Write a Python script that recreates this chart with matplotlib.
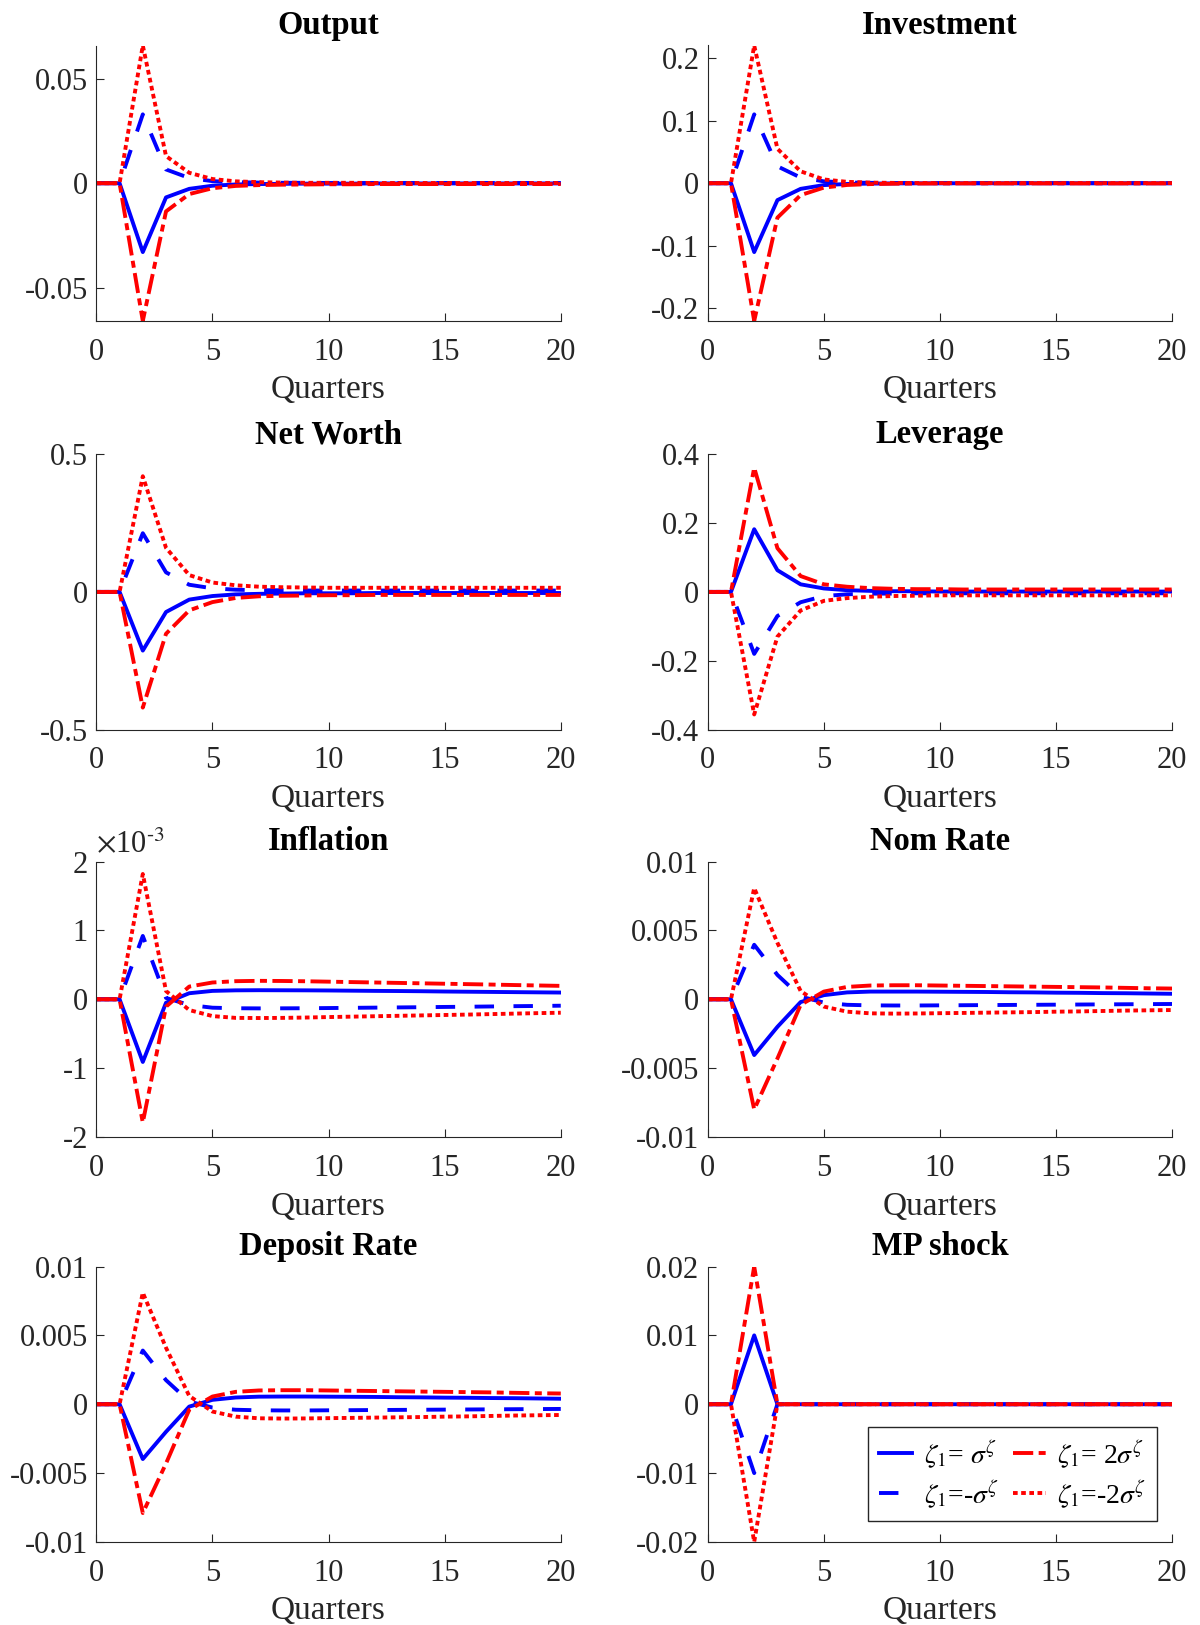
# Impulse responses to the monetary policy shock, four shock sizes
import matplotlib.pyplot as plt
from matplotlib.ticker import FuncFormatter

plt.rcParams['font.family'] = ['Liberation Serif', 'DejaVu Serif']
plt.rcParams['mathtext.fontset'] = 'stix'
plt.rcParams['axes.unicode_minus'] = False

quarters = list(range(21))

# Output
output_s1 = [0, 0, -0.033, -0.0068, -0.0027, -0.0012, -0.0006, -0.0004, -0.0003, -0.0002, -0.0002,
             -0.0002, -0.0001, -0.0001, -0.0001, -0.0001, -0.0001, -0.0001, -0.0001, -0.0001, -0.0001]
output_m1 = [0, 0, 0.033, 0.0066, 0.0025, 0.0010, 0.0005, 0.0003, 0.0002, 0.0002, 0.0001,
             0.0001, 0.0001, 0.0001, 0.0001, 0.0001, 0.0001, 0.0001, 0.0001, 0.0001, 0.0001]
output_s2 = [0, 0, -0.066, -0.0135, -0.0052, -0.0024, -0.0013, -0.0009, -0.0007, -0.0006, -0.0005,
             -0.0005, -0.0004, -0.0004, -0.0004, -0.0004, -0.0004, -0.0004, -0.0004, -0.0004, -0.0004]
output_m2 = [0, 0, 0.066, 0.013, 0.0050, 0.0020, 0.0009, 0.0005, 0.0003, 0.0002, 0.0002,
             0.0002, 0.0001, 0.0001, 0.0001, 0.0001, 0.0001, 0.0001, 0.0001, 0.0001, 0.0001]

# Investment
invest_s1 = [0, 0, -0.11, -0.027, -0.009, -0.003, -0.0012, -0.0006, -0.0003, -0.0002, -0.0001,
             -0.0001, -0.0001, -0.0001, -0.0001, -0.0001, -0.0001, -0.0001, -0.0001, -0.0001, -0.0001]
invest_m1 = [0, 0, 0.11, 0.027, 0.009, 0.003, 0.0012, 0.0006, 0.0003, 0.0002, 0.0001,
             0.0001, 0.0001, 0.0001, 0.0001, 0.0001, 0.0001, 0.0001, 0.0001, 0.0001, 0.0001]
invest_s2 = [0, 0, -0.22, -0.055, -0.019, -0.007, -0.0028, -0.0014, -0.0008, -0.0005, -0.0004,
             -0.0003, -0.0003, -0.0003, -0.0003, -0.0003, -0.0003, -0.0003, -0.0003, -0.0003, -0.0003]
invest_m2 = [0, 0, 0.22, 0.055, 0.019, 0.006, 0.0022, 0.0010, 0.0005, 0.0003, 0.0002,
             0.0002, 0.0002, 0.0002, 0.0002, 0.0002, 0.0002, 0.0002, 0.0002, 0.0002, 0.0002]

# Net Worth
networth_s1 = [0, 0, -0.213, -0.073, -0.028, -0.015, -0.009, -0.007, -0.006, -0.005, -0.005,
               -0.005, -0.004, -0.004, -0.004, -0.004, -0.004, -0.004, -0.004, -0.004, -0.004]
networth_m1 = [0, 0, 0.213, 0.071, 0.026, 0.013, 0.008, 0.006, 0.006, 0.005, 0.005,
               0.005, 0.005, 0.005, 0.005, 0.005, 0.005, 0.005, 0.005, 0.005, 0.005]
networth_s2 = [0, 0, -0.42, -0.152, -0.067, -0.037, -0.022, -0.016, -0.014, -0.013, -0.012,
               -0.012, -0.011, -0.011, -0.011, -0.011, -0.011, -0.011, -0.011, -0.011, -0.011]
networth_m2 = [0, 0, 0.42, 0.160, 0.061, 0.034, 0.024, 0.019, 0.017, 0.016, 0.015,
               0.015, 0.015, 0.015, 0.015, 0.015, 0.015, 0.015, 0.015, 0.015, 0.015]

# Leverage
leverage_s1 = [0, 0, 0.182, 0.063, 0.022, 0.010, 0.005, 0.003, 0.002, 0.002, 0.001,
               0.001, 0.001, 0.001, 0.001, 0.001, 0.001, 0.001, 0.001, 0.001, 0.001]
leverage_m1 = [0, 0, -0.18, -0.07, -0.03, -0.012, -0.007, -0.005, -0.005, -0.004, -0.004,
               -0.004, -0.004, -0.004, -0.004, -0.004, -0.004, -0.004, -0.004, -0.004, -0.004]
leverage_s2 = [0, 0, 0.361, 0.127, 0.046, 0.022, 0.015, 0.011, 0.009, 0.008, 0.008,
               0.007, 0.007, 0.007, 0.007, 0.007, 0.007, 0.007, 0.007, 0.007, 0.007]
leverage_m2 = [0, 0, -0.356, -0.13, -0.054, -0.026, -0.018, -0.014, -0.012, -0.011, -0.010,
               -0.010, -0.010, -0.010, -0.010, -0.010, -0.010, -0.010, -0.010, -0.010, -0.010]

# Inflation, in units of 1e-3
inflation_s1 = [0, 0, -0.91, -0.05, 0.088, 0.122, 0.13, 0.132, 0.131, 0.13, 0.128,
                0.125, 0.122, 0.12, 0.117, 0.113, 0.11, 0.107, 0.104, 0.101, 0.098]
inflation_m1 = [0, 0, 0.92, 0.02, -0.083, -0.122, -0.13, -0.132, -0.131, -0.13, -0.127,
                -0.124, -0.121, -0.118, -0.115, -0.111, -0.108, -0.104, -0.1, -0.097, -0.093]
inflation_s2 = [0, 0, -1.79, -0.107, 0.185, 0.244, 0.263, 0.268, 0.266, 0.262, 0.256,
                0.25, 0.244, 0.238, 0.232, 0.226, 0.22, 0.214, 0.207, 0.201, 0.195]
inflation_m2 = [0, 0, 1.82, 0.12, -0.156, -0.244, -0.27, -0.272, -0.27, -0.265, -0.258,
                -0.252, -0.246, -0.24, -0.234, -0.228, -0.222, -0.215, -0.208, -0.201, -0.195]

# Nominal rate
nomrate_s1 = [0, 0, -0.00405, -0.0020, -0.0002, 0.0003, 0.0005, 0.00056, 0.00056, 0.00056, 0.00055,
              0.00054, 0.00053, 0.00051, 0.0005, 0.00048, 0.00047, 0.00045, 0.00044, 0.00042, 0.0004]
nomrate_m1 = [0, 0, 0.00396, 0.00177, 0.0002, -0.00024, -0.0004, -0.00044, -0.00045, -0.00045, -0.00044,
              -0.00043, -0.00042, -0.00041, -0.0004, -0.00039, -0.00038, -0.00037, -0.00036, -0.00035, -0.00034]
nomrate_s2 = [0, 0, -0.0080, -0.0043, -0.0004, 0.00056, 0.0009, 0.001, 0.00102, 0.00102, 0.001,
              0.00098, 0.00096, 0.00094, 0.00092, 0.0009, 0.00088, 0.00086, 0.00083, 0.0008, 0.00078]
nomrate_m2 = [0, 0, 0.00808, 0.0041, 0.0006, -0.00053, -0.0009, -0.00102, -0.00104, -0.00103, -0.00101,
              -0.00099, -0.00097, -0.00095, -0.00093, -0.0009, -0.00088, -0.00085, -0.00082, -0.0008, -0.00078]

# Deposit rate
deprate_s1 = [0, 0, -0.00398, -0.0020, -0.00017, 0.00032, 0.00049, 0.00055, 0.00056, 0.00056, 0.00055,
              0.00054, 0.00053, 0.00051, 0.0005, 0.00048, 0.00047, 0.00045, 0.00044, 0.00042, 0.0004]
deprate_m1 = [0, 0, 0.0039, 0.00175, 0.0002, -0.00024, -0.0004, -0.00044, -0.00045, -0.00045, -0.00044,
              -0.00043, -0.00042, -0.00041, -0.0004, -0.00039, -0.00038, -0.00037, -0.00036, -0.00035, -0.00034]
deprate_s2 = [0, 0, -0.0079, -0.0043, -0.0004, 0.00056, 0.0009, 0.001, 0.00102, 0.00102, 0.001,
              0.00098, 0.00096, 0.00094, 0.00092, 0.0009, 0.00088, 0.00086, 0.00083, 0.0008, 0.00078]
deprate_m2 = [0, 0, 0.0081, 0.0041, 0.0006, -0.00053, -0.0009, -0.00102, -0.00104, -0.00103, -0.00101,
              -0.00099, -0.00097, -0.00095, -0.00093, -0.0009, -0.00088, -0.00085, -0.00082, -0.0008, -0.00078]

# MP shock
mpshock_s1 = [0, 0, 0.01] + [0] * 18
mpshock_m1 = [0, 0, -0.01] + [0] * 18
mpshock_s2 = [0, 0, 0.02] + [0] * 18
mpshock_m2 = [0, 0, -0.02] + [0] * 18

titles = ['Output', 'Investment', 'Net Worth', 'Leverage',
          'Inflation', 'Nom Rate', 'Deposit Rate', 'MP shock']
series = [
    (output_s1, output_m1, output_s2, output_m2),
    (invest_s1, invest_m1, invest_s2, invest_m2),
    (networth_s1, networth_m1, networth_s2, networth_m2),
    (leverage_s1, leverage_m1, leverage_s2, leverage_m2),
    (inflation_s1, inflation_m1, inflation_s2, inflation_m2),
    (nomrate_s1, nomrate_m1, nomrate_s2, nomrate_m2),
    (deprate_s1, deprate_m1, deprate_s2, deprate_m2),
    (mpshock_s1, mpshock_m1, mpshock_s2, mpshock_m2),
]
ylims = [0.066, 0.22, 0.5, 0.4, 2, 0.01, 0.01, 0.02]
yticks = [
    [-0.05, 0, 0.05],
    [-0.2, -0.1, 0, 0.1, 0.2],
    [-0.5, 0, 0.5],
    [-0.4, -0.2, 0, 0.2, 0.4],
    [-2, -1, 0, 1, 2],
    [-0.01, -0.005, 0, 0.005, 0.01],
    [-0.01, -0.005, 0, 0.005, 0.01],
    [-0.02, -0.01, 0, 0.01, 0.02],
]
labels = [r'$\zeta_1$= $\sigma^\zeta$', r'$\zeta_1$=-$\sigma^\zeta$',
          r'$\zeta_1$= 2$\sigma^\zeta$', r'$\zeta_1$=-2$\sigma^\zeta$']

LW = 2.8
styles = [
    dict(color='blue', linestyle='-'),
    dict(color='blue', linestyle=(0, (5, 5))),
    dict(color='red', linestyle=(0, (5.2, 1.4, 1.8, 1.4))),
    dict(color='red', linestyle=(0, (1.2, 0.9))),
]
DARK = '#262626'

fig = plt.figure(figsize=(12, 16.25), dpi=100)
lefts = [0.0803, 0.5898]
bottoms = [0.8025, 0.551, 0.3003, 0.0511]

for i, title in enumerate(titles):
    ax = fig.add_axes([lefts[i % 2], bottoms[i // 2], 0.387, 0.1695])
    for ys, st, lab in zip(series[i], styles, labels):
        ax.plot(quarters, ys, linewidth=LW, label=lab, dash_capstyle='butt', **st)
    ax.set_xlim(0, 20)
    ax.set_ylim(-ylims[i], ylims[i])
    ax.set_xticks([0, 5, 10, 15, 20])
    ax.set_yticks(yticks[i])
    ax.yaxis.set_major_formatter(FuncFormatter(lambda v, p: '%g' % v))
    for side in ['top', 'right']:
        ax.spines[side].set_visible(False)
    for side in ['left', 'bottom']:
        ax.spines[side].set_color(DARK)
        ax.spines[side].set_linewidth(0.8)
    ax.tick_params(direction='in', length=6, width=0.8, color=DARK, labelcolor=DARK,
                   labelsize=22)
    ax.tick_params(axis='x', pad=12)
    ax.tick_params(axis='y', pad=6)
    ax.set_title(title, fontsize=23.5, fontweight='bold', pad=8)
    ax.set_xlabel('Quarters', fontsize=24, color=DARK, labelpad=6)
    if title == 'Inflation':
        ax.text(0.0, 1.01, r'$\times$10$^{\text{-3}}$', transform=ax.transAxes,
                fontsize=22, color=DARK, ha='left', va='bottom')
    if title == 'MP shock':
        leg = ax.legend(ncol=2, loc='lower left', bbox_to_anchor=(0.345, 0.076),
                        borderaxespad=0, fontsize=20, fancybox=False, framealpha=1,
                        edgecolor=DARK, handlelength=1.2, handletextpad=0.4,
                        columnspacing=0.5, labelspacing=0.3, borderpad=0.4)
        leg.get_frame().set_linewidth(1.0)

plt.savefig('out.png', dpi=100)
